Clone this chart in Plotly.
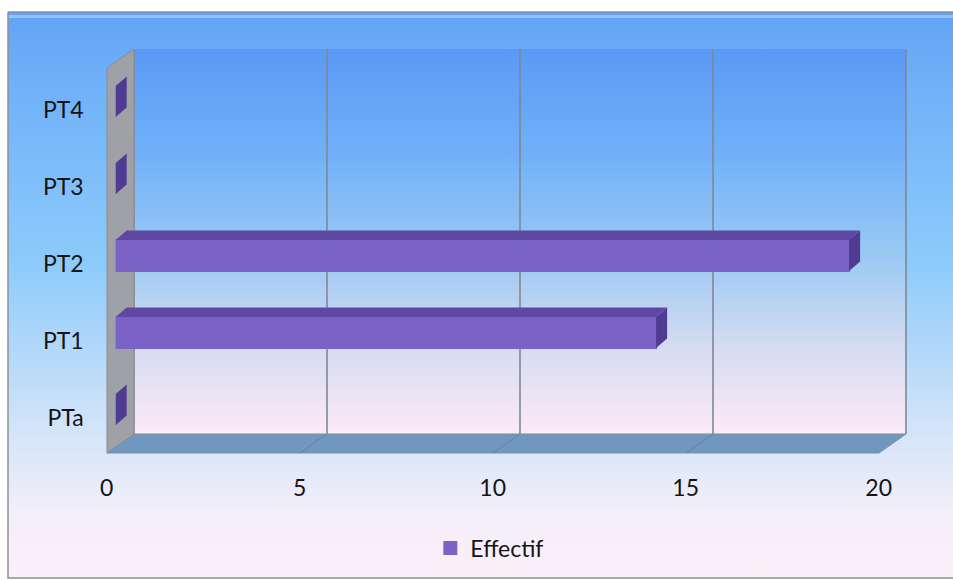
import plotly.graph_objects as go

# ---- data ----
categories = ["PTa", "PT1", "PT2", "PT3", "PT4"]
effectif = [0, 14, 19, 0, 0]
x_ticks = [0, 5, 10, 15, 20]
series_name = "Effectif"

# ---- pseudo-3D box geometry (pixels, origin at top-left of the page) ----
W, H = 953, 580
XMAX = 20
PXU = 38.6            # pixels per unit along the value axis
FRONT_X0 = 107.0      # value 0 on the front edge of the floor
BAR_X0 = 115.7        # value 0 on the front face of the bars
BACK_X0 = 134.0       # value 0 on the back wall
BACK_TOP, BACK_BOTTOM = 49.0, 434.0
FLOOR_FRONT = 453.0
SIDE_TOP = 68.0
ROW_PX = 77.0         # pixels between two categories
ROW0_Y = 409.5        # centre of the first category row
BAR_W = 0.4
DEPTH_DX, DEPTH_DY = 11.0, 9.5   # depth offset of bar top/end faces

FONT = "Lato"
FONT_SIZE = 23
TXT = "#141414"
FRONT_COL = "#7a62c6"
TOP_COL = "#5f48a3"
END_COL = "#4f3b92"

n = len(categories)
bar_right = BAR_X0 + XMAX * PXU
plot_bottom = ROW0_Y + ROW_PX / 2
plot_top = ROW0_Y - (n - 1) * ROW_PX - ROW_PX / 2

fig = go.Figure()


def poly(xs, ys, **kw):
    fig.add_trace(go.Scatter(
        x=list(xs) + [xs[0]], y=list(ys) + [ys[0]], mode="lines", fill="toself",
        hoverinfo="skip", showlegend=False, xaxis="x", yaxis="y", **kw))


def seg(x0, y0, x1, y1, color, width):
    fig.add_trace(go.Scatter(
        x=[x0, x1], y=[y0, y1], mode="lines", hoverinfo="skip", showlegend=False,
        line=dict(color=color, width=width), xaxis="x", yaxis="y"))


# outer frame with its vertical gradient
poly([8, W + 2, W + 2, 8], [12, 12, 578, 578],
     line=dict(color="#8e9196", width=1.5),
     fillgradient=dict(type="vertical", start=12, stop=578,
                       colorscale=[[0, "#62a2f4"], [0.12, "#6fb0f8"],
                                   [0.45, "#8ecbfb"], [0.72, "#cfe3f8"],
                                   [0.88, "#f2eefa"], [1, "#fdeff8"]]))
seg(9, 16.5, W + 2, 16.5, "#8fc3f7", 3)

# back wall
poly([BACK_X0, BACK_X0 + XMAX * PXU, BACK_X0 + XMAX * PXU, BACK_X0],
     [BACK_TOP, BACK_TOP, BACK_BOTTOM, BACK_BOTTOM],
     line=dict(width=0),
     fillgradient=dict(type="vertical", start=BACK_TOP, stop=BACK_BOTTOM,
                       colorscale=[[0, "#5a99f5"], [0.28, "#72b1f8"],
                                   [0.55, "#9dcaf3"], [0.78, "#d6dcf0"],
                                   [1, "#fdeaf6"]]))

# vertical gridlines on the back wall
for v in x_ticks:
    xb = BACK_X0 + v * PXU
    seg(xb, BACK_TOP, xb, BACK_BOTTOM, "#7f8896", 1.6)

# floor and the gridline traces across it
poly([FRONT_X0, BACK_X0, BACK_X0 + XMAX * PXU, FRONT_X0 + XMAX * PXU],
     [FLOOR_FRONT, BACK_BOTTOM, BACK_BOTTOM, FLOOR_FRONT],
     fillcolor="#6f97bf", line=dict(color="#7f8ea0", width=1))
for v in x_ticks[1:-1]:
    seg(BACK_X0 + v * PXU, BACK_BOTTOM, FRONT_X0 + v * PXU, FLOOR_FRONT, "#5f84ab", 1)

# side wall
poly([FRONT_X0, BACK_X0, BACK_X0, FRONT_X0],
     [SIDE_TOP, BACK_TOP, BACK_BOTTOM, FLOOR_FRONT],
     fillcolor="#a0a0a7", line=dict(color="#8b8b93", width=1))

# bars (front faces)
ypos = list(range(n))
fig.add_trace(go.Bar(
    x=effectif, y=ypos, orientation="h", width=BAR_W, name=series_name,
    marker=dict(color=FRONT_COL, line=dict(color=FRONT_COL, width=2)),
    xaxis="x2", yaxis="y2", hoverinfo="skip"))

# top and end faces of the bars, offset in depth
ddx = DEPTH_DX / PXU
ddy = DEPTH_DY / ROW_PX
hw = BAR_W / 2
shapes = []
for i, v in enumerate(effectif):
    top = i + hw
    bot = i - hw
    if v > 0:
        shapes.append(dict(
            type="path", xref="x2", yref="y2", layer="above",
            path=f"M0,{top} L{v},{top} L{v + ddx},{top + ddy} L{ddx},{top + ddy} Z",
            fillcolor=TOP_COL, line=dict(width=0)))
    shapes.append(dict(
        type="path", xref="x2", yref="y2", layer="above",
        path=f"M{v},{bot} L{v},{top} L{v + ddx},{top + ddy} L{v + ddx},{bot + ddy} Z",
        fillcolor=END_COL, line=dict(width=0)))

tick_font = dict(family=FONT, size=FONT_SIZE, color=TXT)
fig.update_layout(
    template="none",
    width=W, height=H,
    margin=dict(l=0, r=0, t=0, b=0, pad=0),
    paper_bgcolor="white",
    plot_bgcolor="rgba(0,0,0,0)",
    hovermode=False,
    shapes=shapes,
    xaxis=dict(domain=[0, 1], range=[0, W], visible=False, fixedrange=True,
               automargin=False),
    yaxis=dict(domain=[0, 1], range=[H, 0], visible=False, fixedrange=True,
               automargin=False),
    xaxis2=dict(domain=[BAR_X0 / W, bar_right / W], range=[0, XMAX], anchor="y2",
                tickvals=x_ticks, ticktext=[str(t) for t in x_ticks],
                showgrid=False, zeroline=False, showline=False, ticks="",
                ticklabelshift=-int(round(BAR_X0 - FRONT_X0)), ticklabelstandoff=24,
                tickfont=tick_font, fixedrange=True, automargin=False),
    yaxis2=dict(domain=[(H - plot_bottom) / H, (H - plot_top) / H],
                range=[-0.5, n - 0.5], anchor="x2",
                tickvals=ypos, ticktext=categories,
                showgrid=False, zeroline=False, showline=False, ticks="",
                ticklabelshift=8, ticklabelstandoff=31,
                tickfont=tick_font, fixedrange=True, automargin=False),
    showlegend=True,
    legend=dict(orientation="h", x=0.514, xanchor="center", y=0.055, yanchor="middle",
                bgcolor="rgba(0,0,0,0)", borderwidth=0,
                font=dict(family=FONT, size=FONT_SIZE, color=TXT)),
)

fig.write_html("out.html")
